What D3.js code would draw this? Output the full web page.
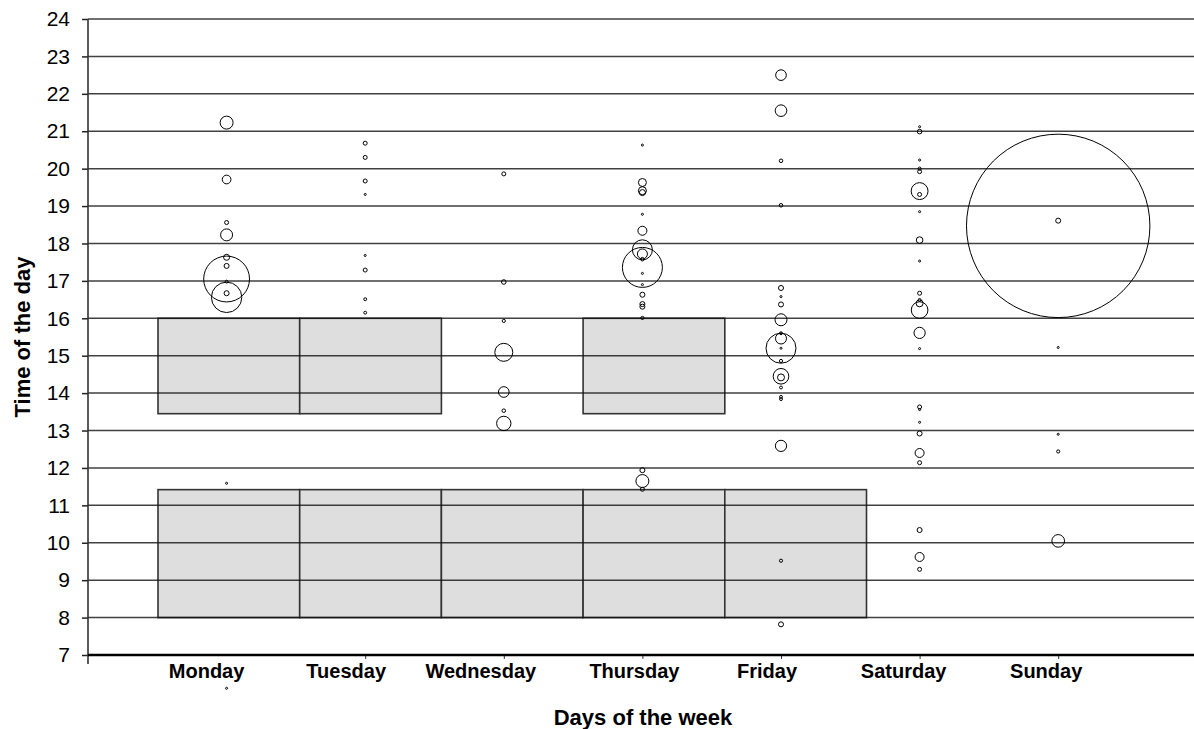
<!DOCTYPE html>
<html>
<head>
<meta charset="utf-8">
<script src="https://cdn.jsdelivr.net/npm/d3@7"></script>
<style>
  body { margin: 0; background: #fff; }
  text { font-family: "Liberation Sans", Arial, sans-serif; fill: #000; }
</style>
</head>
<body>
<div class="main"></div>
<script>
// Jours de la semaine (catégories)
const days = ["Monday", "Tuesday", "Wednesday", "Thursday", "Friday", "Saturday", "Sunday"];

// Blocs gris (plages horaires) : jours concernés et [début, fin] en heures
const morningDays = ["Monday", "Tuesday", "Wednesday", "Thursday", "Friday"];
const morningBlock = [8, 11.42];
const afternoonDays = ["Monday", "Tuesday", "Thursday"];
const afternoonBlock = [13.45, 16];

// Bulles : [heure, taille] pour chaque jour
const monday = [[21.23, 2.0], [19.71, 0.9], [18.56, 0.19], [18.23, 1.7], [17.63, 0.43], [17.40, 0.3],
  [17.05, 25], [16.98, 0.1], [16.67, 0.3], [16.56, 11], [11.59, 0.05], [6.11, 0.05]];
const tuesday = [[20.68, 0.19], [20.30, 0.19], [19.67, 0.19], [19.31, 0.05], [17.68, 0.05], [17.29, 0.19],
  [16.51, 0.1], [16.15, 0.1]];
const wednesday = [[19.86, 0.19], [16.97, 0.25], [15.93, 0.12], [15.09, 3.85], [14.03, 1.35], [13.53, 0.15],
  [13.19, 2.45]];
const thursday = [[20.63, 0.05], [19.63, 0.76], [19.41, 0.76], [19.36, 0.43], [18.78, 0.05], [18.34, 0.96],
  [17.83, 4.76], [17.72, 1.19], [17.58, 0.15], [17.36, 19], [17.2, 0.05], [16.9, 0.05], [16.63, 0.3],
  [16.38, 0.3], [16.31, 0.3], [16.01, 0.12], [11.94, 0.3], [11.65, 2.0], [11.43, 0.19]];
const friday = [[22.50, 1.35], [21.55, 1.6], [20.21, 0.15], [19.02, 0.15], [16.81, 0.3], [16.58, 0.05],
  [16.37, 0.3], [15.96, 1.71], [15.6, 0.1], [15.46, 1.44], [15.20, 10.7], [15.2, 0.05], [14.86, 0.12],
  [14.45, 2.9], [14.42, 0.58], [14.15, 0.1], [13.90, 0.1], [13.84, 0.1], [12.59, 1.5], [9.52, 0.12],
  [7.82, 0.3]];
const saturday = [[21.12, 0.05], [20.99, 0.25], [20.23, 0.05], [20.0, 0.12], [19.92, 0.19], [19.40, 3.4],
  [19.31, 0.19], [18.85, 0.05], [18.09, 0.52], [17.53, 0.05], [16.67, 0.19], [16.49, 0.1], [16.40, 0.58],
  [16.22, 3.3], [15.61, 1.5], [15.19, 0.05], [13.63, 0.19], [13.56, 0.05], [13.22, 0.05], [12.92, 0.3],
  [12.40, 0.96], [12.14, 0.19], [10.34, 0.3], [9.62, 0.96], [9.29, 0.19]];
const sunday = [[18.47, 400], [18.61, 0.3], [15.22, 0.05], [12.90, 0.05], [12.44, 0.12], [10.05, 1.9]];

const bubbleDays = [monday, tuesday, wednesday, thursday, friday, saturday, sunday];

// Graduations
const hourTicks = d3.range(7, 25);
const gridHours = d3.range(8, 25);

// Dimensions du SVG
const W = 1194, H = 729;
const plot = { left: 88, right: 1194, top: 19, bottom: 655 };
// décalage horizontal des étiquettes de jours (mise en page)
const labelShift = [-20, -19, -23, -8, -14, -16, -12];

const svg = d3.select(".main")
  .append("svg")
    .attr("width", W)
    .attr("height", H);

// Echelle verticale (heure du jour)
const y = d3.scaleLinear()
  .domain([7, 24])
  .range([plot.bottom, plot.top]);

// Echelle des bulles (jour 1..7) et des blocs
const xB = d3.scaleLinear()
  .domain([0, 8])
  .range([plot.left, plot.left + 8 * 138.6]);

const xBar = d3.scaleBand()
  .domain(days)
  .range([158, 158 + 7 * 141.7])
  .padding(0);

const r = d3.scaleSqrt()
  .domain([0, 400])
  .range([0, 91.7]);

// Blocs gris
function drawBlocks(list, block) {
  svg.append("g")
    .selectAll("rect")
    .data(list)
    .join("rect")
      .attr("x", d => xBar(d))
      .attr("width", xBar.bandwidth())
      .attr("y", y(block[1]))
      .attr("height", y(block[0]) - y(block[1]))
      .attr("fill", "#dedede")
      .attr("stroke", "#333")
      .attr("stroke-width", 1.6);
}
drawBlocks(morningDays, morningBlock);
drawBlocks(afternoonDays, afternoonBlock);

// Lignes de grille
svg.append("g")
  .selectAll("line")
  .data(gridHours)
  .join("line")
    .attr("x1", plot.left)
    .attr("x2", plot.right)
    .attr("y1", d => y(d))
    .attr("y2", d => y(d))
    .attr("stroke", "#111")
    .attr("stroke-opacity", 0.8)
    .attr("stroke-width", 1.5);

// Axe Y
const yAxis = svg.append("g")
  .attr("transform", "translate(" + plot.left + ",0)")
  .call(d3.axisLeft(y).tickValues(hourTicks).tickSize(6).tickSizeOuter(0).tickPadding(12));
yAxis.select(".domain").remove();
yAxis.selectAll(".tick line").attr("stroke", "#222").attr("stroke-width", 1.5);
yAxis.selectAll(".tick text").style("font-size", "21px");
svg.append("line")
  .attr("x1", plot.left).attr("x2", plot.left)
  .attr("y1", plot.top).attr("y2", plot.bottom + 9)
  .attr("stroke", "#333").attr("stroke-width", 1.6);

// Axe X
const xAxis = svg.append("g")
  .attr("transform", "translate(0," + plot.bottom + ")")
  .call(d3.axisBottom(xB).tickValues(d3.range(2, 8)).tickSize(4).tickFormat(""));
xAxis.select(".domain").remove();
xAxis.selectAll(".tick line").attr("stroke", "#333");
svg.append("line")
  .attr("x1", plot.left).attr("x2", plot.right)
  .attr("y1", plot.bottom).attr("y2", plot.bottom)
  .attr("stroke", "#000").attr("stroke-width", 2.6);

// Etiquettes des jours
svg.append("g")
  .selectAll("text")
  .data(days)
  .join("text")
    .attr("x", (d, i) => xB(i + 1) + labelShift[i])
    .attr("y", 678)
    .attr("text-anchor", "middle")
    .style("font-size", "20px")
    .style("font-weight", "bold")
    .text(d => d);

// Bulles
bubbleDays.forEach(function (pts, i) {
  svg.append("g")
    .selectAll("circle")
    .data(pts)
    .join("circle")
      .attr("cx", xB(i + 1))
      .attr("cy", d => y(d[0]))
      .attr("r", d => Math.max(1, r(d[1])))
      .attr("fill", "none")
      .attr("stroke", "#000")
      .attr("stroke-width", 1);
});

// Titres des axes
svg.append("text")
  .attr("x", 643)
  .attr("y", 725)
  .attr("text-anchor", "middle")
  .style("font-size", "22px")
  .style("font-weight", "bold")
  .text("Days of the week");

svg.append("text")
  .attr("transform", "translate(30,337) rotate(-90)")
  .attr("text-anchor", "middle")
  .style("font-size", "22px")
  .style("font-weight", "bold")
  .text("Time of the day");
</script>
</body>
</html>
